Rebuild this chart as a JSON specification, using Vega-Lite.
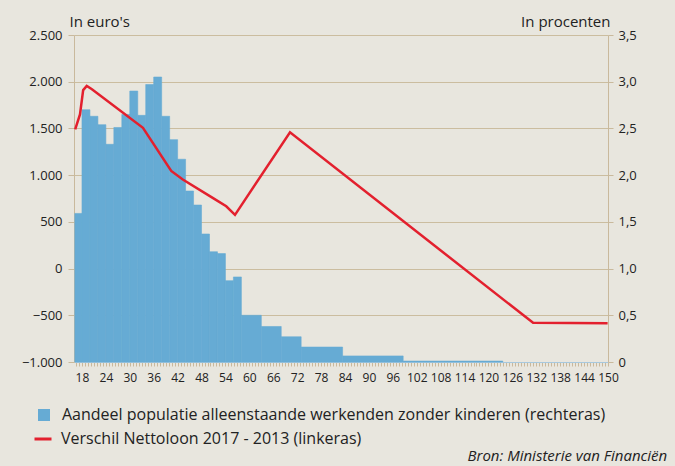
{
  "$schema": "https://vega.github.io/schema/vega-lite/v6.json",
  "width": 534,
  "height": 327,
  "autosize": {"type": "none"},
  "padding": {"left": 74, "top": 35, "right": 67, "bottom": 104},
  "background": "#e8e6de",
  "config": {
    "view": {"stroke": null},
    "font": "Open Sans",
    "axis": {"labelFont": "Open Sans", "labelColor": "#222222", "labelFontSize": 13, "titleFont": "Open Sans", "titleColor": "#222222", "titleFontWeight": "normal", "titleFontSize": 15},
    "legend": {"labelFont": "Open Sans", "labelColor": "#222222", "labelFontSize": 16, "padding": 0, "labelLimit": 700}
  },
  "title": {"text": "Bron: Ministerie van Financiën", "orient": "bottom", "anchor": "end", "font": "Open Sans", "fontStyle": "italic", "fontWeight": "normal", "fontSize": 15, "color": "#222222", "offset": 2, "dx": 31},
  "datasets": {
    "bars": [
      {"start": 16.2, "end": 18, "pct": 1.59},
      {"start": 18, "end": 20, "pct": 2.70},
      {"start": 20, "end": 22, "pct": 2.63},
      {"start": 22, "end": 24, "pct": 2.54},
      {"start": 24, "end": 26, "pct": 2.33},
      {"start": 26, "end": 28, "pct": 2.51},
      {"start": 28, "end": 30, "pct": 2.65},
      {"start": 30, "end": 32, "pct": 2.90},
      {"start": 32, "end": 34, "pct": 2.64},
      {"start": 34, "end": 36, "pct": 2.97},
      {"start": 36, "end": 38, "pct": 3.05},
      {"start": 38, "end": 40, "pct": 2.63},
      {"start": 40, "end": 42, "pct": 2.38},
      {"start": 42, "end": 44, "pct": 2.17},
      {"start": 44, "end": 46, "pct": 1.83},
      {"start": 46, "end": 48, "pct": 1.68},
      {"start": 48, "end": 50, "pct": 1.37},
      {"start": 50, "end": 52, "pct": 1.18},
      {"start": 52, "end": 54, "pct": 1.16},
      {"start": 54, "end": 56, "pct": 0.87},
      {"start": 56, "end": 58, "pct": 0.91},
      {"start": 58, "end": 63, "pct": 0.50},
      {"start": 63, "end": 68, "pct": 0.38},
      {"start": 68, "end": 73, "pct": 0.27},
      {"start": 73, "end": 83.4, "pct": 0.16},
      {"start": 83.4, "end": 98.6, "pct": 0.065},
      {"start": 98.6, "end": 123.6, "pct": 0.01}
    ],
    "line": [
      {"age": 16.3, "euro": 1490},
      {"age": 17.5, "euro": 1650},
      {"age": 18.3, "euro": 1910},
      {"age": 19.2, "euro": 1955},
      {"age": 20.5, "euro": 1920},
      {"age": 33.3, "euro": 1506},
      {"age": 40.4, "euro": 1045},
      {"age": 43.3, "euro": 953},
      {"age": 50.8, "euro": 757},
      {"age": 54.2, "euro": 667},
      {"age": 56.4, "euro": 575},
      {"age": 70.2, "euro": 1458},
      {"age": 131.2, "euro": -581},
      {"age": 149.9, "euro": -585}
    ]
  },
  "layer": [
    {
      "mark": {"type": "rule", "color": "#857868", "strokeWidth": 1.5},
      "encoding": {
        "y": {"datum": 0, "type": "quantitative", "scale": {"domain": [-1000, 2500], "nice": false}, "axis": null}
      }
    },
    {
      "data": {"name": "bars"},
      "mark": {"type": "rect", "stroke": "#66abd4", "strokeWidth": 0.6},
      "encoding": {
        "x": {"field": "start", "type": "quantitative", "scale": {"domain": [16, 150], "nice": false, "zero": false},
          "axis": {"title": null, "grid": false, "tickCount": 400, "values": [16.5,17.25,18,18.75,19.5,20.25,21,21.75,22.5,23.25,24,24.75,25.5,26.25,27,27.75,28.5,29.25,30,30.75,31.5,32.25,33,33.75,34.5,35.25,36,36.75,37.5,38.25,39,39.75,40.5,41.25,42,42.75,43.5,44.25,45,45.75,46.5,47.25,48,48.75,49.5,50.25,51,51.75,52.5,53.25,54,54.75,55.5,56.25,57,57.75,58.5,59.25,60,60.75,61.5,62.25,63,63.75,64.5,65.25,66,66.75,67.5,68.25,69,69.75,70.5,71.25,72,72.75,73.5,74.25,75,75.75,76.5,77.25,78,78.75,79.5,80.25,81,81.75,82.5,83.25,84,84.75,85.5,86.25,87,87.75,88.5,89.25,90,90.75,91.5,92.25,93,93.75,94.5,95.25,96,96.75,97.5,98.25,99,99.75,100.5,101.25,102,102.75,103.5,104.25,105,105.75,106.5,107.25,108,108.75,109.5,110.25,111,111.75,112.5,113.25,114,114.75,115.5,116.25,117,117.75,118.5,119.25,120,120.75,121.5,122.25,123,123.75,124.5,125.25,126,126.75,127.5,128.25,129,129.75,130.5,131.25,132,132.75,133.5,134.25,135,135.75,136.5,137.25,138,138.75,139.5,140.25,141,141.75,142.5,143.25,144,144.75,145.5,146.25,147,147.75,148.5,149.25,150],
            "labelExpr": "datum.value >= 18 && (datum.value - 18) % 6 == 0 ? datum.value : ''",
            "labelFontSize": 12,
            "tickSize": 4, "tickColor": "#c9b99c", "domainColor": "#a6c8de", "labelPadding": 6, "labelOverlap": false, "labelFlush": false}},
        "x2": {"field": "end"},
        "y": {"field": "pct", "type": "quantitative", "scale": {"domain": [0, 3.5], "nice": false},
          "axis": {"orient": "right", "title": "In procenten", "titleAngle": 0, "titleAlign": "right", "titleBaseline": "alphabetic", "titleX": 2, "titleY": -9,
            "values": [0, 0.5, 1, 1.5, 2, 2.5, 3, 3.5],
            "labelExpr": "datum.value == 0 ? '0' : replace(format(datum.value, '.1f'), '.', ',')",
            "grid": true, "gridColor": "#cbbd9f", "gridWidth": 1, "domainColor": "#c9b99c", "tickColor": "#c9b99c", "tickSize": 5, "labelPadding": 5}},
        "y2": {"datum": 0},
        "fill": {"datum": "Aandeel populatie alleenstaande werkenden zonder kinderen (rechteras)", "type": "nominal",
          "scale": {"range": ["#66abd4"]},
          "legend": {"title": null, "orient": "none", "legendX": -38, "legendY": 372, "symbolType": "square", "symbolSize": 144, "labelOffset": 10, "symbolStrokeWidth": 0}}
      }
    },
    {
      "data": {"name": "line"},
      "mark": {"type": "line", "strokeWidth": 2.5},
      "encoding": {
        "x": {"field": "age", "type": "quantitative"},
        "y": {"field": "euro", "type": "quantitative", "scale": {"domain": [-1000, 2500], "nice": false},
          "axis": {"orient": "left", "title": "In euro's", "titleAngle": 0, "titleAlign": "left", "titleBaseline": "alphabetic", "titleX": -5, "titleY": -9,
            "values": [-1000, -500, 0, 500, 1000, 1500, 2000, 2500],
            "labelExpr": "replace(format(datum.value, ','), ',', '.')",
            "grid": false, "domainColor": "#c9b99c", "tickColor": "#c9b99c", "tickSize": 6, "labelPadding": 6}},
        "stroke": {"datum": "Verschil Nettoloon 2017 - 2013 (linkeras)", "type": "nominal",
          "scale": {"range": ["#e3202e"]},
          "legend": {"title": null, "orient": "none", "legendX": -41, "legendY": 394, "symbolType": "stroke", "symbolSize": 289, "symbolStrokeWidth": 3, "labelOffset": 8}}
      }
    }
  ],
  "resolve": {"scale": {"y": "independent"}}
}
